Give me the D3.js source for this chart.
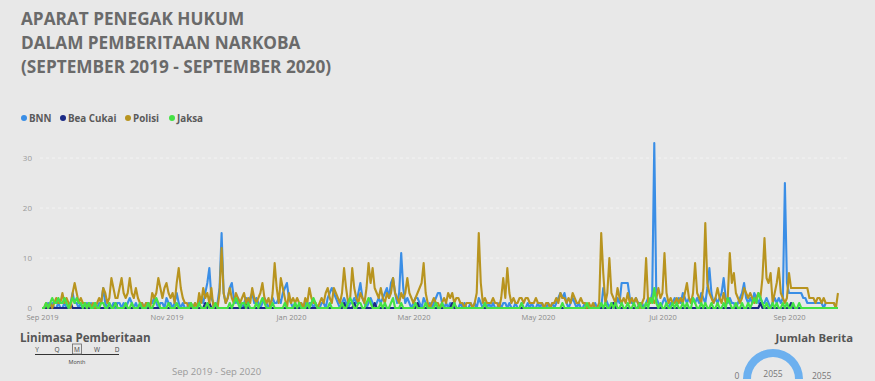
<!DOCTYPE html>
<html><head><meta charset="utf-8">
<script src="https://cdn.jsdelivr.net/npm/d3@7"></script>
<style>html,body{margin:0;padding:0;background:#e8e8e8;overflow:hidden}text{font-family:"Open Sans","Noto Sans",sans-serif}</style>
</head><body><svg id="c" width="875" height="381"></svg>
<script>
const titleLines = ["APARAT PENEGAK HUKUM", "DALAM PEMBERITAAN NARKOBA", "(SEPTEMBER 2019 - SEPTEMBER 2020)"];
const seriesNames = ["BNN", "Bea Cukai", "Polisi", "Jaksa"];
const seriesColors = ["#3a8ee6", "#1b2a86", "#b8941f", "#44e244"];
const startDate = new Date(2019, 8, 1);
const endDate = new Date(2020, 8, 26);
const xTickDates = [new Date(2019,8,1), new Date(2019,10,1), new Date(2020,0,1), new Date(2020,2,1), new Date(2020,4,1), new Date(2020,6,1), new Date(2020,8,1)];
const xTickLabels = ["Sep 2019", "Nov 2019", "Jan 2020", "Mar 2020", "May 2020", "Jul 2020", "Sep 2020"];
const yTicks = [0, 10, 20, 30];

const bnn = [
0,0,0,1,0,1,0,0,1,0, 0,1,0,0,1,3,1,1,0,1, 0,0,1,0,1,0,1,0,1,1, 4,1,0,1,0,1,0,1,1,0,
1,0,1,2,1,0,1,0,0,1, 0,1,0,1,1,2,1,0,1,1, 0,2,1,1,0,1,3,1,0,1, 0,0,1,0,0,1,0,1,2,1,
3,5,8,2,1,0,1,4,15,3, 1,2,4,5,2,1,2,1,0,1, 2,1,2,3,1,2,1,0,1,2, 1,0,1,2,1,1,2,1,3,4,
5,2,1,0,1,0,0,1,0,1, 0,1,1,0,1,0,0,1,1,0, 2,3,4,3,2,1,0,1,2,1, 0,1,1,2,1,3,5,2,1,0,
1,2,1,0,1,2,1,2,3,4, 2,5,6,3,1,3,11,4,1,2, 1,0,1,2,2,1,0,2,1,0, 1,0,1,2,3,3,1,0,1,0,
1,0,1,0,0,1,0,1,0,0, 1,0,1,0,2,1,0,1,0,1, 0,1,0,0,1,0,1,1,0,1, 0,0,1,0,0,1,0,0,1,0,
1,0,0,1,0,1,0,0,1,0, 1,0,1,2,3,2,3,1,0,1, 2,1,0,1,0,0,1,0,0,0, 0,1,0,0,0,4,2,1,0,1,
1,0,2,1,5,5,5,5,2,1, 1,2,1,0,1,0,1,2,1,3, 33,2,1,0,1,2,1,0,1,1, 2,1,2,1,3,2,1,2,1,2,
1,2,1,3,2,1,4,8,3,1, 2,1,2,3,6,2,1,2,1,1, 0,1,2,3,5,2,1,2,1,3, 2,1,2,1,1,2,1,0,1,2,
1,2,1,2,25,5,3,3,3,3, 3,3,3,2,2,1,1,1,1,1, 1,1,1,0,1,1,1,1,1,0, 0];

const beaCukai = [
0,0,0,0,0,0,0,0,0,0, 0,0,0,0,1,0,0,0,0,0, 0,0,0,0,0,0,0,0,0,0, 0,0,0,0,0,0,1,0,0,0,
0,0,0,0,0,0,0,0,0,0, 0,0,0,0,0,0,0,0,0,0, 0,0,0,0,0,0,0,0,0,0, 0,0,0,0,0,0,0,0,0,0,
1,0,1,0,0,0,0,0,0,0, 0,0,0,0,0,0,0,0,0,0, 1,0,0,0,0,0,0,0,0,0, 0,0,0,0,0,0,0,0,0,0,
0,0,0,0,0,0,0,0,0,0, 0,0,0,0,0,0,0,0,0,0, 0,0,0,0,0,0,0,0,1,0, 0,0,0,1,0,0,0,0,0,0,
0,0,0,1,0,0,0,0,0,0, 0,0,0,0,0,0,0,0,0,0, 0,0,0,0,1,0,0,0,0,0, 0,0,0,0,0,0,0,0,0,0,
0,1,0,0,0,0,0,0,0,0, 0,0,0,0,0,0,0,0,0,0, 0,0,0,0,0,0,0,0,0,0, 0,0,0,0,0,0,0,0,0,0,
0,0,0,0,0,0,0,0,0,0, 0,0,0,0,0,0,0,0,0,0, 0,0,0,0,0,0,0,0,0,0, 0,0,0,0,0,0,0,0,0,0,
1,0,0,0,0,0,0,0,0,0, 0,0,0,1,0,0,0,0,0,0, 0,0,0,0,0,0,0,0,0,0, 0,0,0,0,0,0,0,0,0,0,
0,0,0,0,0,0,0,0,0,0, 0,0,0,0,0,0,0,0,0,0, 0,0,0,0,0,0,0,0,0,0, 0,0,1,0,0,0,0,0,0,0,
0,0,0,0,0,0,0,1,0,0, 0,0,0,0,0,0,0,0,0,0, 0,0,0,0,0,0,0,0,0,0, 0];

const polisi = [
0,0,1,0,1,0,1,2,1,1, 3,1,2,1,0,3,5,3,1,2, 1,1,0,1,0,1,0,1,2,1, 4,3,1,2,6,4,2,2,4,6,
3,2,3,6,3,2,4,2,1,1, 0,1,1,0,3,2,3,6,4,2, 4,5,3,2,3,1,5,8,4,2, 1,1,0,1,0,1,0,3,1,4,
2,3,1,4,0,1,0,3,12,3, 1,2,4,2,1,3,2,1,2,3, 1,2,1,4,2,1,2,3,5,2, 1,2,0,3,9,4,1,6,4,2,
0,3,1,2,1,2,1,1,0,2, 1,4,2,1,1,0,1,2,1,3, 4,2,1,4,3,2,1,3,8,4, 1,2,8,4,2,1,3,2,1,4,
9,5,8,4,3,2,4,2,1,3, 2,3,6,3,2,1,3,2,3,6, 3,2,1,2,3,4,5,9,3,1, 0,1,2,1,1,0,1,2,1,3,
2,3,1,2,2,1,1,0,1,1, 1,0,1,3,15,5,1,2,1,1, 1,2,1,1,0,2,6,2,8,3, 1,2,1,1,2,2,1,2,2,1,
1,1,2,1,1,1,0,1,1,0, 1,1,2,1,3,2,2,1,2,1, 3,2,1,1,2,1,1,0,1,0, 1,0,0,1,15,7,1,3,10,3,
2,1,4,2,1,2,1,3,1,2, 1,2,1,0,1,2,10,1,1,2, 1,2,4,2,3,11,3,1,2,1, 1,2,1,2,1,3,5,2,1,3,
9,3,2,1,4,17,5,3,2,1, 2,4,2,1,3,1,2,11,5,7, 3,2,1,2,4,3,2,3,2,1, 2,3,2,6,14,6,5,7,1,3,
5,8,3,2,1,2,7,4,4,4, 4,4,4,4,4,4,2,2,2,1, 2,2,1,2,1,1,1,1,1,0, 3];

const jaksa = [
0,0,1,0,1,2,1,1,2,1, 1,2,1,0,1,2,1,2,1,1, 0,1,0,1,0,0,1,0,0,1, 1,0,0,1,0,0,1,0,0,0,
0,1,0,0,1,0,0,0,1,0, 0,0,1,0,0,1,2,1,0,0, 0,0,1,0,0,0,1,0,0,0, 0,0,0,1,0,0,0,1,0,0,
0,1,0,0,0,1,0,0,0,0, 0,0,1,0,1,2,1,0,1,1, 0,1,0,0,0,1,0,1,2,1, 0,0,0,1,0,0,0,0,0,1,
0,0,0,0,1,0,1,0,0,0, 1,0,1,2,1,0,0,0,0,0, 0,1,0,0,0,0,0,1,0,0, 1,2,1,0,0,1,1,0,0,1,
2,1,0,0,0,0,1,0,1,0, 0,1,2,0,0,0,1,0,0,0, 0,0,0,1,0,0,0,0,1,0, 0,0,0,1,0,0,1,0,0,0,
0,0,1,0,0,0,0,0,0,0, 0,0,0,0,0,0,0,1,0,0, 0,0,0,0,0,0,0,0,0,0, 0,0,0,0,0,1,0,0,0,0,
0,0,0,0,0,0,0,0,0,0, 0,0,0,0,0,1,0,0,0,0, 0,0,0,0,0,0,0,1,0,0, 0,0,0,0,1,0,1,0,0,1,
0,1,0,0,1,0,0,1,0,0, 1,0,0,1,0,0,1,0,2,1, 4,1,0,1,0,0,1,0,0,1, 0,1,0,0,1,0,1,0,0,2,
1,0,0,1,0,1,0,0,1,0, 0,1,0,0,1,0,2,1,0,0, 1,0,0,1,0,0,1,0,1,2, 1,3,2,1,0,1,0,0,1,0,
1,0,0,1,0,1,0,0,1,0, 0,1,0,0,0,0,0,0,0,0, 0,0,0,0,0,0,0,0,0,0, 0];

const timelineLevels = ["Y", "Q", "M", "W", "D"];
const timelineLabel = "Month";
const rangeLabel = "Sep 2019 - Sep 2020";
const gaugeMin = 0, gaugeMax = 2055, gaugeValue = 2055;

const svg = d3.select("#c");
svg.append("rect").attr("width", 875).attr("height", 381).attr("fill", "#e8e8e8");

// title
svg.selectAll(".title").data(titleLines).join("text")
  .attr("x", 21).attr("y", (d, i) => 24.5 + i * 24)
  .attr("font-size", 17.2).attr("font-weight", 700).attr("fill", "#6a6a6a").text(d => d);

// legend
const legendX = [24, 63, 128, 172];
const lg = svg.append("g");
seriesNames.forEach((n, i) => {
  lg.append("circle").attr("cx", legendX[i]).attr("cy", 118).attr("r", 3).attr("fill", seriesColors[i]);
  lg.append("text").attr("x", legendX[i] + 5).attr("y", 121.5).attr("font-size", 9.8)
    .attr("font-weight", 700).attr("fill", "#5a5a5a").text(n);
});

const x = d3.scaleTime().domain([startDate, endDate]).range([42, 840]);
const y = d3.scaleLinear().domain([0, 30]).range([308, 158]);

// grid
svg.append("g").selectAll("line").data(yTicks.filter(t => t > 0)).join("line")
  .attr("x1", 40).attr("x2", 848).attr("y1", d => y(d)).attr("y2", d => y(d))
  .attr("stroke", "#f3f3f3").attr("stroke-width", 1).attr("stroke-dasharray", "3,3");

// y axis
const yAxis = svg.append("g").attr("transform", "translate(32,0)")
  .call(d3.axisLeft(y).tickValues(yTicks).tickSize(0).tickPadding(0));
yAxis.select(".domain").remove();
yAxis.selectAll("text").attr("font-size", 8).attr("fill", "#9a9a9a").attr("font-family", "Open Sans")
  .attr("dy", "0.25em");

// x axis
const xAxis = svg.append("g").attr("transform", "translate(0,315)")
  .call(d3.axisBottom(x).tickValues(xTickDates).tickSize(0).tickPadding(0)
    .tickFormat((d, i) => xTickLabels[i]));
xAxis.select(".domain").remove();
xAxis.selectAll("text").attr("font-size", 7.5).attr("fill", "#8a8a8a").attr("font-family", "Open Sans");

// lines
const days = d3.range(polisi.length).map(i => d3.timeDay.offset(startDate, i));
const allSeries = [bnn, beaCukai, polisi, jaksa];
const line = d3.line().x((d, i) => x(days[i])).y(d => y(d));
allSeries.forEach((s, i) => {
  svg.append("path").datum(s).attr("d", line).attr("fill", "none")
    .attr("stroke", seriesColors[i]).attr("stroke-width", 2.1).attr("stroke-linejoin", "round");
});

// bottom left: Linimasa
svg.append("text").attr("x", 20).attr("y", 342).attr("font-size", 11.6).attr("font-weight", 700)
  .attr("fill", "#555").text("Linimasa Pemberitaan");
const tl = d3.scalePoint().domain(timelineLevels).range([37, 117]);
svg.append("line").attr("x1", 35).attr("x2", 119).attr("y1", 354.5).attr("y2", 354.5)
  .attr("stroke", "#333").attr("stroke-width", 1);
svg.selectAll(".tlv").data(timelineLevels).join("text")
  .attr("x", d => tl(d)).attr("y", 352).attr("text-anchor", "middle")
  .attr("font-size", 6.5).attr("fill", "#444").text(d => d);
svg.append("rect").attr("x", tl("M") - 4.5).attr("y", 344).attr("width", 9).attr("height", 10)
  .attr("fill", "none").attr("stroke", "#666").attr("stroke-width", 0.8);
svg.append("text").attr("x", tl("M")).attr("y", 364).attr("text-anchor", "middle")
  .attr("font-size", 5.5).attr("fill", "#444").text(timelineLabel);
svg.append("text").attr("x", 172).attr("y", 375).attr("font-size", 9.5).attr("fill", "#9a9a9a").text(rangeLabel);

// gauge
svg.append("text").attr("x", 853).attr("y", 342).attr("text-anchor", "end").attr("font-size", 11.3)
  .attr("font-weight", 700).attr("fill", "#555").text("Jumlah Berita");
const gx = 773, gy = 379;
const ga = d3.scaleLinear().domain([gaugeMin, gaugeMax]).range([-Math.PI / 2, Math.PI / 2]);
const arc = d3.arc().innerRadius(22).outerRadius(30);
svg.append("path").attr("transform", `translate(${gx},${gy})`)
  .attr("d", arc({startAngle: ga(gaugeMin), endAngle: ga(gaugeValue)})).attr("fill", "#6cb0ef");
svg.append("text").attr("x", gx).attr("y", 377).attr("text-anchor", "middle").attr("font-size", 8.5)
  .attr("fill", "#777").text(gaugeValue);
svg.append("text").attr("x", 737).attr("y", 379).attr("text-anchor", "middle").attr("font-size", 8.5)
  .attr("fill", "#777").text(gaugeMin);
svg.append("text").attr("x", 812).attr("y", 379).attr("font-size", 8.5)
  .attr("fill", "#777").text(gaugeMax);
</script></body></html>
